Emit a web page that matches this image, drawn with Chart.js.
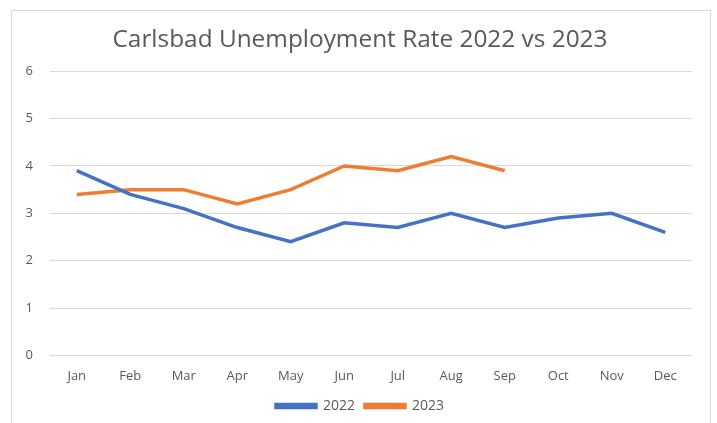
<!DOCTYPE html>
<html>
<head>
<meta charset="utf-8">
<script src="https://cdn.jsdelivr.net/npm/chart.js@4/dist/chart.umd.min.js"></script>
<style>
  body { margin: 0; background: #fff; }
  #frame { position: absolute; left: 11px; top: 10px; width: 698px; height: 430px; border: 1px solid #d9d9d9; }
  #wrap { position: absolute; left: 0; top: 0; width: 717px; height: 423px; }
</style>
</head>
<body>
<div id="frame"></div>
<div id="wrap"><canvas id="myChart" width="717" height="423"></canvas></div>
<script>
const months = ['Jan', 'Feb', 'Mar', 'Apr', 'May', 'Jun', 'Jul', 'Aug', 'Sep', 'Oct', 'Nov', 'Dec'];
const rate2022 = [3.9, 3.4, 3.1, 2.7, 2.4, 2.8, 2.7, 3.0, 2.7, 2.9, 3.0, 2.6];
const rate2023 = [3.4, 3.5, 3.5, 3.2, 3.5, 4.0, 3.9, 4.2, 3.9];
const yTicks = [0, 1, 2, 3, 4, 5, 6];

const textColor = '#595959';

var ctx = document.getElementById('myChart').getContext('2d');
var chart = new Chart(ctx, {
    type: 'line',
    data: {
        labels: months,
        datasets: [{
            label: '2022',
            data: rate2022,
            borderColor: '#4472C4',
            backgroundColor: '#4472C4',
            borderWidth: 3.5,
            pointRadius: 0,
            tension: 0
        }, {
            label: '2023',
            data: rate2023,
            borderColor: '#ED7D31',
            backgroundColor: '#ED7D31',
            borderWidth: 3.5,
            pointRadius: 0,
            tension: 0
        }]
    },
    options: {
        responsive: false,
        animation: false,
        layout: { padding: { left: 10, right: 7, top: 17, bottom: 0 } },
        plugins: {
            title: {
                display: true,
                text: 'Carlsbad Unemployment Rate 2022 vs 2023',
                color: textColor,
                font: { family: 'Open Sans', size: 24.4, weight: 'normal' },
                padding: { top: 8, bottom: 17 }
            },
            legend: {
                position: 'bottom',
                labels: {
                    color: textColor,
                    font: { family: 'Open Sans', size: 14 },
                    boxWidth: 40,
                    boxHeight: 3,
                    padding: 10
                }
            },
            tooltip: { enabled: false }
        },
        scales: {
            x: {
                offset: true,
                grid: { display: false },
                border: { display: false },
                ticks: { color: textColor, font: { family: 'Open Sans', size: 13 }, padding: 5, maxRotation: 0 }
            },
            y: {
                min: yTicks[0],
                max: yTicks[yTicks.length - 1],
                afterBuildTicks: function (axis) { axis.ticks = yTicks.map(v => ({ value: v })); },
                afterFit: function (axis) { axis.width = 40; },
                grid: { color: '#d9d9d9', lineWidth: 1, drawTicks: false },
                border: { display: false },
                ticks: { color: textColor, font: { family: 'Open Sans', size: 13 }, padding: 17 }
            },
            // empty axis on the right, only keeps the plot area clear of the frame
            yRight: {
                position: 'right',
                grid: { display: false },
                border: { display: false },
                ticks: { display: false },
                afterFit: function (axis) { axis.width = 18; }
            }
        }
    }
});
</script>
</body>
</html>
